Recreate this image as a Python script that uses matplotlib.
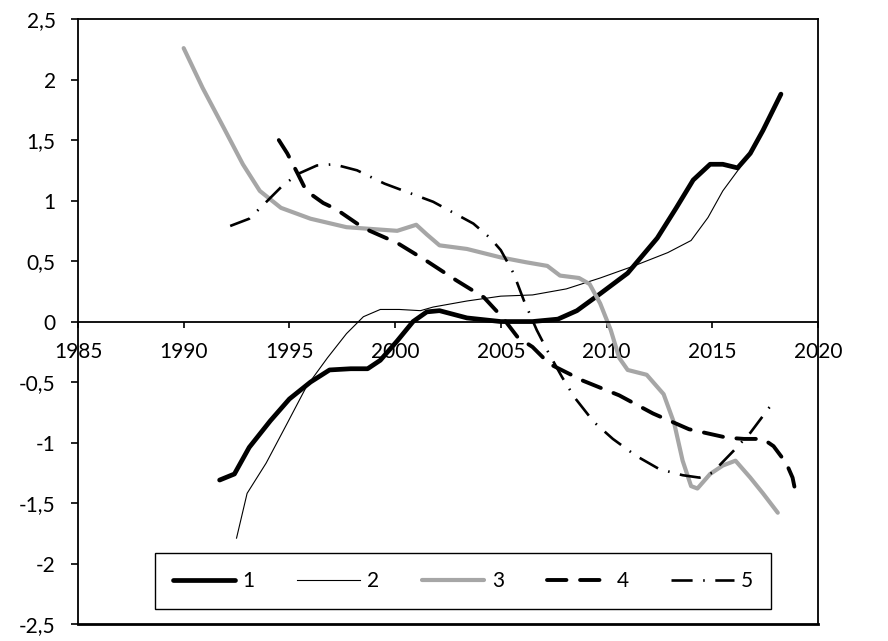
import numpy as np
import matplotlib
matplotlib.use('Agg')
from matplotlib import pyplot as plt
from matplotlib.ticker import FuncFormatter

plt.rcParams['font.family'] = ['Lato', 'DejaVu Sans']

# values (year, value)
s1_x = [1991.7, 1992.4, 1993.1, 1994.1, 1995.0, 1996.0, 1996.9, 1997.9, 1998.7, 1999.3,
        2000.1, 2000.85, 2001.5, 2002.1, 2003.4, 2005.0, 2006.5, 2007.7, 2008.6, 2009.7,
        2011.0, 2012.4, 2013.3, 2014.1, 2014.9, 2015.5, 2016.2, 2016.8, 2017.4, 2018.25]
s1_y = [-1.31, -1.26, -1.04, -0.82, -0.64, -0.50, -0.40, -0.39, -0.39, -0.32,
        -0.16, 0.0, 0.08, 0.09, 0.03, 0.0, 0.0, 0.02, 0.09, 0.23,
        0.40, 0.69, 0.94, 1.17, 1.30, 1.30, 1.27, 1.39, 1.58, 1.88]

s2_x = [1992.5, 1993.0, 1993.9, 1994.9, 1995.8, 1996.8, 1997.7, 1998.5, 1999.3, 2000.2,
        2001.2, 2001.8, 2003.4, 2005.0, 2006.5, 2008.1, 2009.7, 2011.3, 2012.9, 2014.0,
        2014.8, 2015.5, 2016.3]
s2_y = [-1.79, -1.42, -1.17, -0.84, -0.54, -0.30, -0.10, 0.04, 0.10, 0.10,
        0.09, 0.12, 0.17, 0.21, 0.22, 0.27, 0.36, 0.46, 0.57, 0.67,
        0.86, 1.08, 1.27]

s3_x = [1990.0, 1990.9, 1991.9, 1992.8, 1993.6, 1994.6, 1996.0, 1997.7, 2000.1, 2001.0,
        2001.5, 2002.1, 2003.4, 2005.0, 2006.2, 2007.2, 2007.8, 2008.7, 2009.2, 2009.7,
        2010.2, 2010.6, 2011.0, 2011.9, 2012.7, 2013.2, 2013.6, 2014.0, 2014.3, 2014.9,
        2015.5, 2016.1, 2016.8, 2017.4, 2018.1]
s3_y = [2.26, 1.93, 1.60, 1.30, 1.08, 0.94, 0.85, 0.78, 0.75, 0.80,
        0.72, 0.63, 0.60, 0.53, 0.49, 0.46, 0.38, 0.36, 0.31, 0.15,
        -0.07, -0.30, -0.40, -0.44, -0.60, -0.84, -1.15, -1.36, -1.38, -1.26,
        -1.19, -1.15, -1.29, -1.42, -1.58]

s4_x = [1994.5, 1994.9, 1995.4, 1995.8, 1996.6, 1997.2, 1998.2, 1998.8, 2000.1, 2001.5,
        2002.9, 2004.2, 2005.1, 2005.8, 2006.5, 2007.3, 2008.9, 2010.6, 2012.2, 2013.9,
        2015.7, 2016.5, 2017.4, 2017.9, 2018.5, 2018.8, 2019.0]
s4_y = [1.50, 1.39, 1.22, 1.08, 0.98, 0.93, 0.81, 0.75, 0.65, 0.50,
        0.34, 0.20, 0.03, -0.13, -0.21, -0.35, -0.49, -0.61, -0.76, -0.89,
        -0.96, -0.97, -0.97, -1.03, -1.17, -1.29, -1.46]

s5_x = [1992.2, 1993.1, 1993.8, 1994.6, 1995.4, 1996.3, 1997.1, 1998.2, 1999.5, 2001.8,
        2003.7, 2004.5, 2005.0, 2005.6, 2006.1, 2006.7, 2007.2, 2007.9, 2008.5, 2009.4,
        2010.3, 2011.4, 2012.5, 2013.6, 2014.4, 2015.0, 2016.0, 2016.8, 2017.7, 2017.9]
s5_y = [0.79, 0.85, 0.97, 1.11, 1.22, 1.29, 1.30, 1.25, 1.14, 0.99,
        0.81, 0.69, 0.59, 0.40, 0.17, -0.07, -0.24, -0.46, -0.63, -0.83,
        -0.97, -1.11, -1.22, -1.27, -1.29, -1.25, -1.07, -0.92, -0.71, -0.67]

labels = ['1', '2', '3', '4', '5']
x_ticks = [1985, 1990, 1995, 2000, 2005, 2010, 2015, 2020]
y_ticks = [-2.5, -2, -1.5, -1, -0.5, 0, 0.5, 1, 1.5, 2, 2.5]

fig = plt.figure(figsize=(8.88, 6.41), dpi=100)
ax = fig.add_axes([0.0878, 0.0265, 0.8333, 0.9437])

ax.plot(s1_x, s1_y, color='black', lw=3.4, solid_capstyle='round', label=labels[0])
ax.plot(s2_x, s2_y, color='black', lw=0.8, label=labels[1])
ax.plot(s3_x, s3_y, color='#a6a6a6', lw=3.0, solid_capstyle='round', label=labels[2])
ax.plot(s4_x, s4_y, color='black', lw=2.8, dashes=(5, 3.5), dash_capstyle='round', label=labels[3])
ax.plot(s5_x, s5_y, color='black', lw=1.9, dashes=(8, 4, 0.6, 4), label=labels[4])

ax.set_xlim(1985, 2020)
ax.set_ylim(-2.5, 2.5)
ax.set_xticks(x_ticks)
ax.set_yticks(y_ticks)
ax.yaxis.set_major_formatter(FuncFormatter(lambda v, p: ('%g' % v).replace('.', ',')))

ax.spines['bottom'].set_position(('data', 0))
for s in ax.spines.values():
    s.set_linewidth(1.3)
ax.axhline(-2.5, color='black', lw=2.0, clip_on=False)

ax.tick_params(axis='y', direction='out', length=5, width=1.2, pad=11, labelsize=15)
ax.tick_params(axis='x', direction='out', length=4, width=1.2, pad=11, labelsize=15)

leg = ax.legend(loc='lower left', bbox_to_anchor=(0.104, 0.025), ncol=5, frameon=True,
                fancybox=False, edgecolor='black', framealpha=1, fontsize=15,
                handlelength=3.0, handletextpad=0.35, columnspacing=2.05,
                borderpad=0.85, borderaxespad=0)
leg.get_frame().set_linewidth(1.0)

fig.savefig('out.png', dpi=100)
